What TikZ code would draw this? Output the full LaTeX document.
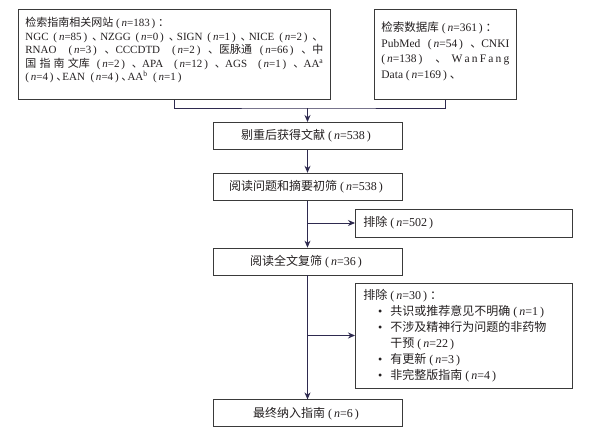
\documentclass[tikz,border=0pt]{standalone}
\usepackage{fontspec}
\setmainfont{Liberation Serif}
\newfontfamily\cjk{Noto Sans CJK SC}
\usetikzlibrary{positioning,arrows.meta}

\definecolor{linecol}{HTML}{2E2A4F}
\definecolor{boxcol}{HTML}{3A3A3A}
\definecolor{txtcol}{HTML}{231F20}

\newcommand\zh[1]{{\cjk #1}}
\newcommand\nn[1]{\hspace{0.25em plus 0.4em}(\,\textit{n}=#1\,)\hspace{0.25em plus 0.4em}}
\newcommand\dun{{\cjk 、}\kern-0.45em\hspace{0pt plus 0.4em}}
\newcommand\padlow[1]{\rule[-#1]{0pt}{#1}}
\newcommand\itm{\makebox[27pt][r]{\textbullet\hspace{8pt}}}

\begin{document}
\begin{tikzpicture}[
    x=1pt, y=-1pt,
    node distance=23pt,
    box/.style={draw=boxcol, line width=0.8pt, text=txtcol, font=\fontsize{12}{16}\selectfont, inner xsep=8pt, inner ysep=3pt},
    flowbox/.style={box, minimum width=189pt, minimum height=27pt, align=center},
    srcbox/.style={box, anchor=north west, align=justify, minimum height=90pt, inner xsep=7pt},
    exclbox/.style={box, anchor=west, align=left, text width=201pt},
    flow/.style={draw=linecol, line width=0.9pt},
    >={Stealth[length=7pt,width=6pt]}
  ]
    \useasboundingbox (0,0) rectangle (591,428);

    % sources
    \node[srcbox, text width=298pt, font=\fontsize{11}{13.5}\selectfont] (webs) at (18,9) {%
      \zh{检索指南相关网站}\nn{183}\zh{：}\newline
      NGC\nn{85}\dun NZGG\nn{0}\dun SIGN\nn{1}\dun NICE\nn{2}\zh{、}\linebreak
      RNAO \nn{3}\dun CCCDTD \nn{2}\dun\zh{医脉通}\nn{66}\dun\zh{中}\linebreak
      \zh{国\hspace{0pt plus 0.3em}指\hspace{0pt plus 0.3em}南\hspace{0pt plus 0.3em}文库}\nn{2}\dun APA \nn{12}\dun AGS \nn{1}\dun AA\textsuperscript{a}\linebreak
      \nn{4}\dun EAN \nn{4}\dun AA\textsuperscript{b} \nn{1}\padlow{11pt}};
    \node[srcbox, text width=128pt, font=\fontsize{11.5}{15.5}\selectfont] (dbs) at (374,9) {%
      \zh{检索数据库}\nn{361}\zh{：}\newline
      PubMed\nn{54}\dun CNKI\linebreak
      \nn{138}\dun W\hspace{0pt plus 1pt}a\hspace{0pt plus 1pt}n\hspace{0pt plus 1pt}F\hspace{0pt plus 1pt}a\hspace{0pt plus 1pt}n\hspace{0pt plus 1pt}g\linebreak
      Data\nn{169}\zh{、}\padlow{9pt}};
    \coordinate (merge) at (307.5,108);

    % main flow
    \node[flowbox, anchor=north] (dedup) at (307.5,122) {\zh{剔重后获得文献}\nn{538}};
    \node[flowbox, below=of dedup] (screen) {\zh{阅读问题和摘要初筛}\nn{538}};
    \node[flowbox, below=47pt of screen] (fulltext) {\zh{阅读全文复筛}\nn{36}};
    \node[flowbox, below=124pt of fulltext] (final) {\zh{最终纳入指南}\nn{6}};

    % exclusions
    \node[exclbox, minimum height=28pt] (excl1) at (355,223) {\zh{排除}\nn{502}};
    \node[exclbox, minimum height=105pt] (excl2) at (355,335.5) {%
      \zh{排除}\nn{30}\zh{：}\\
      \itm\zh{共识或推荐意见不明确}\nn{1}\\
      \itm\zh{不涉及精神行为问题的非药物}\\
      \hspace*{27pt}\zh{干预}\nn{22}\\
      \itm\zh{有更新}\nn{3}\\
      \itm\zh{非完整版指南}\nn{4}};

    \draw[flow] (webs.south) |- (merge) -| (dbs.south);
    \draw[flow,->] (merge) -- (dedup);
    \draw[flow,->] (dedup) -- (screen);
    \draw[flow,->] (screen) -- (fulltext);
    \draw[flow,->] (screen |- excl1) -- (excl1);
    \draw[flow,->] (fulltext) -- (final);
    \draw[flow,->] (fulltext |- excl2) -- (excl2);
  \end{tikzpicture}
\end{document}
